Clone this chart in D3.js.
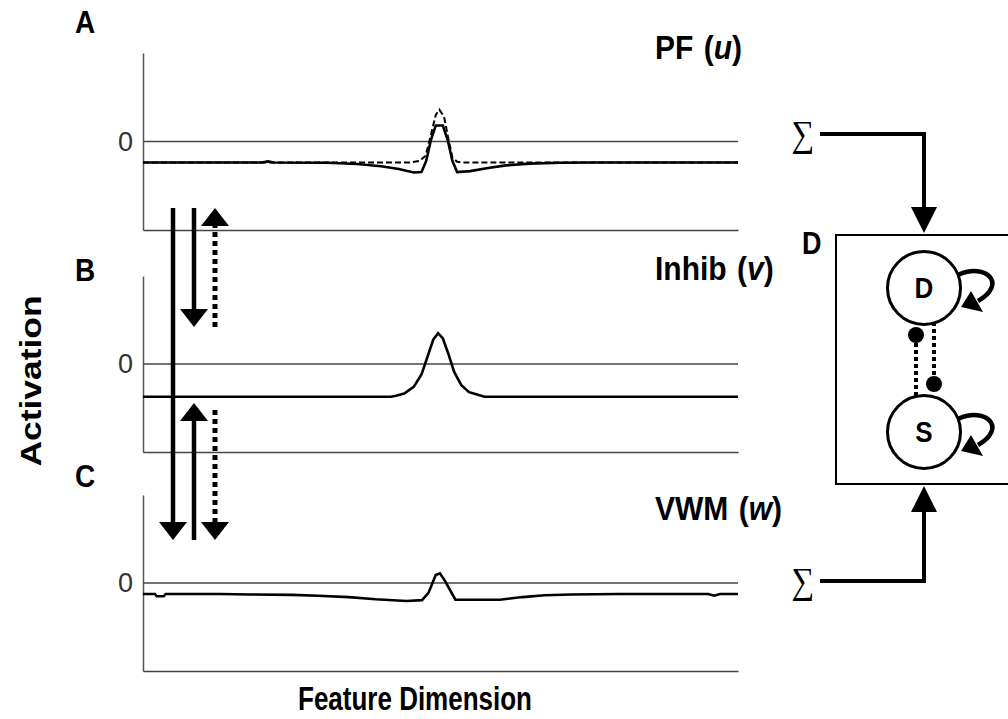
<!DOCTYPE html>
<html lang="en">
<head>
<meta charset="UTF-8">
<title>Field model</title>
<script src="https://cdn.jsdelivr.net/npm/d3@7"></script>
<style>
  body { margin: 0; background: #fff; }
  text { font-family: "Liberation Sans", Arial, sans-serif; }
</style>
</head>
<body>
<div id="vis"></div>
<script>
var width = 1008, height = 719;

// feature dimension (0..100) and activation values
var pfX      = [0, 20, 21, 22, 31, 36, 40, 43, 45.5, 46.8, 47.6, 48.4, 49.2, 50.4, 51.2, 52, 52.8, 55, 58, 61, 65, 70, 75, 100];
var pfSolid  = [-2.37, -2.37, -2.25, -2.37, -2.4, -2.55, -2.8, -3.1, -3.5, -3.45, -2.2, 0.2, 1.8, 1.8, 0.2, -2.2, -3.45, -3.35, -3.0, -2.7, -2.5, -2.4, -2.37, -2.37];
var pfDashX  = [0, 45, 46.5, 47.5, 48.3, 49.2, 49.8, 50.6, 51.3, 52, 52.8, 53.5, 100];
var pfDashed = [-2.37, -2.37, -2.2, -1.6, 0.5, 3.0, 3.6, 2.8, 0.4, -1.8, -2.3, -2.37, -2.37];

var inhibX = [0, 41.7, 42.5, 43.9, 45.5, 46.8, 47.8, 48.8, 49.6, 50.4, 51.3, 52.3, 53.5, 54.8, 56, 57.4, 100];
var inhibV = [-3.73, -3.73, -3.6, -3.35, -2.6, -1.2, 0.8, 2.8, 3.5, 2.9, 1.2, -0.9, -2.4, -3.2, -3.45, -3.73, -3.73];

var vwmX = [0, 2, 2.3, 3.5, 3.8, 13, 18, 25, 29.4, 34.6, 39.1, 44.3, 46.9, 48, 49.2, 49.9, 50.7, 52.5, 60, 63.8, 67.5, 72, 80, 95, 96, 97, 100];
var vwmW = [-1.25, -1.25, -1.5, -1.5, -1.25, -1.25, -1.3, -1.35, -1.45, -1.6, -1.85, -2.05, -1.95, -1.1, 0.9, 1.1, 0.3, -1.9, -1.9, -1.6, -1.4, -1.3, -1.25, -1.25, -1.45, -1.25, -1.25];

var panelLetters = ["A", "B", "C"];
var panelNames   = ["PF", "Inhib", "VWM"];
var panelVars    = ["u", "v", "w"];

var svg = d3.select("#vis").append("svg")
    .attr("width", width)
    .attr("height", height);

var x = d3.scaleLinear().domain([0, 100]).range([143, 738]);

// vertical extent of each panel
var panelTop    = [53, 276, 495];
var panelBottom = [230, 452, 671];

var line = d3.line().x(function(d) { return x(d[0]); }).y(function(d) { return d[1]; });

function zip(xs, ys, y) {
  return xs.map(function(v, i) { return [v, y(ys[i])]; });
}

// text drawn a little taller than wide, like the scanned figure
function label(px, py, str, size, sx, sy) {
  return svg.append("text")
      .attr("transform", "translate(" + px + "," + py + ") scale(" + sx + "," + sy + ")")
      .attr("font-size", size)
      .attr("font-weight", "bold")
      .text(str);
}

var panels = [
  { curves: [ { xs: pfX, ys: pfSolid, dash: null }, { xs: pfDashX, ys: pfDashed, dash: "6,3" } ] },
  { curves: [ { xs: inhibX, ys: inhibV, dash: null } ] },
  { curves: [ { xs: vwmX, ys: vwmW, dash: null } ] }
];

var titleBase = [59, 280, 520];
var letterBase = [33, 281, 487];

panels.forEach(function(p, i) {
  var y = d3.scaleLinear().domain([-10, 10]).range([panelBottom[i], panelTop[i]]);
  var g = svg.append("g");

  // y axis with only the zero tick
  var ax = g.append("g")
      .attr("transform", "translate(" + x(0) + ",0)")
      .call(d3.axisLeft(y).tickValues([0]).tickSize(0).tickSizeOuter(0).tickPadding(10));
  ax.select(".domain").attr("stroke", "#555").attr("stroke-width", 1.5);
  ax.selectAll("text")
      .attr("font-size", 27)
      .attr("fill", "#333")
      .style("font-family", "'Liberation Sans', Arial, sans-serif");

  // bottom line
  var bx = g.append("g")
      .attr("transform", "translate(0," + panelBottom[i] + ")")
      .call(d3.axisBottom(x).tickValues([]).tickSizeOuter(0));
  bx.select(".domain").attr("stroke", "#444").attr("stroke-width", 1.5);

  // zero line
  g.append("line")
      .attr("x1", x(0)).attr("x2", x(100))
      .attr("y1", y(0)).attr("y2", y(0))
      .attr("stroke", "#444").attr("stroke-width", 1.5);

  p.curves.forEach(function(c) {
    g.append("path")
        .attr("d", line(zip(c.xs, c.ys, y)))
        .attr("fill", "none")
        .attr("stroke", "#000")
        .attr("stroke-width", c.dash ? 2 : 2.6)
        .attr("stroke-dasharray", c.dash);
  });

  label(75, letterBase[i], panelLetters[i], 28, 1, 1.15);

  // title
  var t = svg.append("text")
      .attr("transform", "translate(655," + titleBase[i] + ") scale(1,1.08)")
      .attr("font-size", 30).attr("font-weight", "bold");
  t.append("tspan").text(panelNames[i] + " ");
  t.append("tspan").attr("dx", 2).text("(");
  t.append("tspan").attr("font-style", "italic").text(panelVars[i]);
  t.append("tspan").text(")");
});

// axis titles
label(0, 0, "Activation", 30, 1, 1).attr("text-anchor", "middle")
    .attr("transform", "translate(41,381) rotate(-90) scale(1.18,1)");

label(415, 710, "Feature Dimension", 26, 1, 1.3).attr("text-anchor", "middle");

// vertical arrow with a filled head at the end (x, from, to)
function arrow(xp, y0, y1, dotted, head) {
  var dir = y1 > y0 ? 1 : -1;
  var hl = 18, hw = 14;
  var end = head ? y1 - dir * hl : y1;
  svg.append("line")
      .attr("x1", xp).attr("x2", xp)
      .attr("y1", y0).attr("y2", end)
      .attr("stroke", "#000")
      .attr("stroke-width", dotted ? 5 : 4.5)
      .attr("stroke-dasharray", dotted ? "5,4" : null);
  if (head) {
    svg.append("path")
        .attr("d", "M" + (xp - hw) + "," + end + "L" + (xp + hw) + "," + end + "L" + xp + "," + y1 + "Z")
        .attr("fill", "#000");
  }
}

arrow(173, 208, 540, false, true);
arrow(194, 208, 327, false, true);
arrow(215, 327, 208, true, true);
arrow(194, 540, 403, false, true);
arrow(215, 410, 540, true, true);

// right hand diagram
svg.append("rect")
    .attr("x", 836).attr("y", 235)
    .attr("width", 200).attr("height", 249)
    .attr("fill", "none").attr("stroke", "#000").attr("stroke-width", 2);

label(802, 254, "D", 27, 1, 1.15);

function connector(yl, tip) {
  var xp = 924, hl = 26, hw = 13;
  var dir = tip > yl ? 1 : -1;
  var base = tip - dir * hl;
  svg.append("path")
      .attr("d", "M820," + yl + "H" + xp + "V" + base)
      .attr("fill", "none").attr("stroke", "#000").attr("stroke-width", 4);
  svg.append("path")
      .attr("d", "M" + (xp - hw) + "," + base + "L" + (xp + hw) + "," + base + "L" + xp + "," + tip + "Z")
      .attr("fill", "#000");
  svg.append("text")
      .attr("transform", "translate(814," + (yl + 12) + ") scale(1,1.15)")
      .attr("text-anchor", "end")
      .attr("font-size", 32)
      .style("font-family", "'Liberation Serif', 'DejaVu Serif', serif")
      .text("\u2211");
}
connector(134, 233);
connector(581, 486);

var nodes = [ { label: "D", cy: 288 }, { label: "S", cy: 432 } ];
var cx = 924, r = 36.5;

// dotted links between the nodes
svg.append("line")
    .attr("x1", 916).attr("x2", 916).attr("y1", 336).attr("y2", 398)
    .attr("stroke", "#000").attr("stroke-width", 4).attr("stroke-dasharray", "4,3");
svg.append("line")
    .attr("x1", 934).attr("x2", 934).attr("y1", 322).attr("y2", 384)
    .attr("stroke", "#000").attr("stroke-width", 4).attr("stroke-dasharray", "4,3");

nodes.forEach(function(n) {
  svg.append("circle")
      .attr("cx", cx).attr("cy", n.cy).attr("r", r)
      .attr("fill", "#fff").attr("stroke", "#000").attr("stroke-width", 3);
  label(cx, n.cy + 10, n.label, 26, 1, 1.12).attr("text-anchor", "middle");
  // self loop
  svg.append("path")
      .attr("d", "M" + (cx + 34) + "," + (n.cy - 13) +
                 "C" + (cx + 62) + "," + (n.cy - 26) + " " + (cx + 84) + "," + (n.cy - 4) + " " + (cx + 54) + "," + (n.cy + 13))
      .attr("fill", "none").attr("stroke", "#000").attr("stroke-width", 4.5);
  svg.append("path")
      .attr("d", "M" + (cx + 47) + "," + (n.cy + 3) + "L" + (cx + 59) + "," + (n.cy + 24) + "L" + (cx + 37) + "," + (n.cy + 19) + "Z")
      .attr("fill", "#000");
});

svg.append("circle").attr("cx", 916).attr("cy", 335).attr("r", 8).attr("fill", "#000");
svg.append("circle").attr("cx", 934).attr("cy", 384).attr("r", 8).attr("fill", "#000");
</script>
</body>
</html>
